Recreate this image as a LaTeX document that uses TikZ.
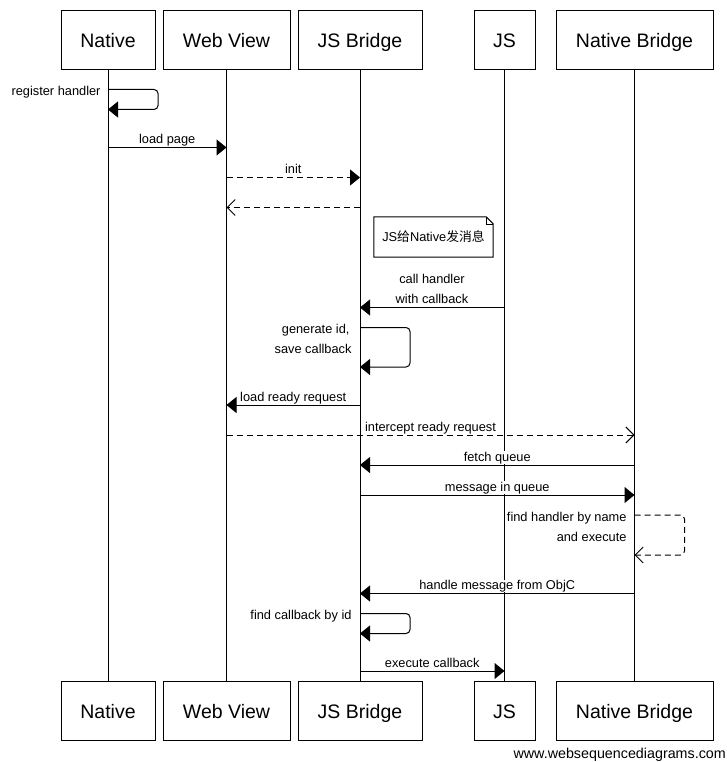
\documentclass[tikz,border=0pt]{standalone}
\usepackage{fontspec}
\setmainfont{Liberation Sans}
\newfontfamily\cjk{Noto Sans CJK SC}
\usetikzlibrary{arrows.meta}
\begin{document}
\begin{tikzpicture}[x=1pt,y=-1pt,
  actor/.style={draw,line width=1pt,fill=white,minimum height=59pt,inner sep=0pt,text height=19pt,text depth=4pt,font=\fontsize{19.5}{23}\selectfont},
  lbl/.style={font=\fontsize{12.8}{15}\selectfont,inner sep=0.3pt,fill=white,anchor=base},
  mid/.style={lbl,midway,yshift=4pt},
  slbl/.style={lbl,anchor=base east},
  life/.style={line width=1pt},
  msg/.style={line width=1pt,-{Triangle[length=10pt,width=16pt]}},
  dmsg/.style={msg,dash pattern=on 6pt off 4pt},
  ret/.style={line width=1pt,dash pattern=on 6pt off 4pt,-{Straight Barb[length=8pt,width=16pt]}},
  selfmsg/.style={msg,rounded corners=4pt},
  dself/.style={ret,rounded corners=4pt},
]
\useasboundingbox (0,0) rectangle (726,762);
\fill[white] (0,0) rectangle (726,762);

% actors top
\node[actor,minimum width=94pt]  (nT) at (108,40.5)   {Native};
\node[actor,minimum width=127pt] (wT) at (226.5,40.5) {Web View};
\node[actor,minimum width=124pt] (jT) at (360,40.5)   {JS Bridge};
\node[actor,minimum width=61pt]  (sT) at (504.5,40.5) {JS};
\node[actor,minimum width=157pt] (bT) at (634.5,40.5) {Native Bridge};
% actors bottom
\node[actor,minimum width=94pt]  (nB) at (108,710.5)   {Native};
\node[actor,minimum width=127pt] (wB) at (226.5,710.5) {Web View};
\node[actor,minimum width=124pt] (jB) at (360,710.5)   {JS Bridge};
\node[actor,minimum width=61pt]  (sB) at (504.5,710.5) {JS};
\node[actor,minimum width=157pt] (bB) at (634.5,710.5) {Native Bridge};

% lifelines
\draw[life] (nT.south) -- (nB.north);
\draw[life] (wT.south) -- (wB.north);
\draw[life] (jT.south) -- (jB.north);
\draw[life] (sT.south) -- (sB.north);
\draw[life] (bT.south) -- (bB.north);

% 1 register handler
\draw[selfmsg] (nT.south |- 0,89.5) -- ++(50,0) -- ++(0,20) -- (nT.south |- 0,109.5);
\node[slbl] (l1) at (101,95.5) {register handler};
% 2 load page
\draw[msg] (nT.south |- 0,147.5) -- node[mid] (l2) {load page} (wT.south |- 0,147.5);
% 3 init
\draw[dmsg] (wT.south |- 0,177.5) -- node[mid] (l3) {init} (jT.south |- 0,177.5);
% 4 return
\draw[ret] (jT.south |- 0,207.5) -- (wT.south |- 0,207.5);
% 5 note
\node[minimum width=119pt,minimum height=40pt,inner sep=0pt,font=\fontsize{12.8}{15}\selectfont] (note) at (433.5,237) {JS{\cjk 给}Native{\cjk 发消息}};
\draw[line width=1pt] (note.north west) -- ([xshift=-7pt]note.north east) -- ([yshift=-7pt]note.north east) -- (note.south east) -- (note.south west) -- cycle;
\draw[line width=0.6pt] ([xshift=-7pt]note.north east) |- ([yshift=-7pt]note.north east);
% 6 call handler
\draw[msg] (sT.south |- 0,307.5) -- (jT.south |- 0,307.5);
\node[lbl] (l6a) at (432,283.5) {call handler};
\node[lbl] (l6b) at (432,303.5) {with callback};
% 7 generate id
\draw[selfmsg] (jT.south |- 0,327.5) -- ++(50,0) -- ++(0,39.5) -- (jT.south |- 0,367);
\node[slbl] (l7a) at (350,333.5) {generate id,};
\node[slbl] (l7b) at (352,353.5) {save callback};
% 8 load ready request
\draw[msg] (jT.south |- 0,405) -- node[mid] (l8) {load ready request} (wT.south |- 0,405);
% 9 intercept
\draw[ret] (wT.south |- 0,435) -- node[mid] (l9) {intercept ready request} (bT.south |- 0,435);
% 10 fetch queue
\draw[msg] (bT.south |- 0,465) -- node[mid] (l10) {fetch queue} (jT.south |- 0,465);
% 11 message in queue
\draw[msg] (jT.south |- 0,495) -- node[mid] (l11) {message in queue} (bT.south |- 0,495);
% 12 find handler
\draw[dself] (bT.south |- 0,515) -- ++(50,0) -- ++(0,40) -- (bT.south |- 0,555);
\node[slbl] (l12a) at (627,521) {find handler by name};
\node[slbl] (l12b) at (627,541) {and execute};
% 13 handle message
\draw[msg] (bT.south |- 0,593.5) -- node[mid] (l13) {handle message from ObjC} (jT.south |- 0,593.5);
% 14 find callback
\draw[selfmsg] (jT.south |- 0,613.5) -- ++(50,0) -- ++(0,20) -- (jT.south |- 0,633.5);
\node[slbl] (l14) at (352,619) {find callback by id};
% 15 execute callback
\draw[msg] (jT.south |- 0,671) -- node[mid] (l15) {execute callback} (sT.south |- 0,671);

% watermark
\node[font=\fontsize{14.3}{16}\selectfont,anchor=base east,inner sep=0pt] (wm) at (726,758) {www.websequencediagrams.com};
\end{tikzpicture}
\end{document}
